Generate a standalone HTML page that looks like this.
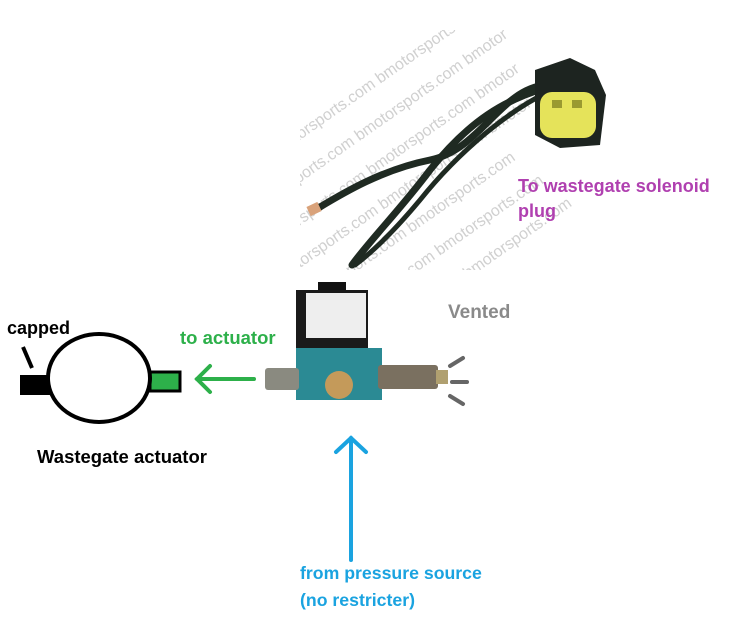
<!DOCTYPE html>
<html><head><style>
html,body{margin:0;padding:0;background:#fff;}
svg{display:block;}
text{font-family:"Liberation Sans",sans-serif;font-weight:bold;}
</style></head><body>
<svg width="733" height="635" viewBox="0 0 733 635" xmlns="http://www.w3.org/2000/svg">
<!-- watermark -->
<g fill="#d0d0d0" font-size="16">
<g transform="rotate(-35 460 150)">
<text x="300" y="50" style="font-weight:normal">bmotorsports.com   bmotorsports.com</text>
<text x="250" y="85" style="font-weight:normal">bmotorsports.com   bmotorsports.com   bmotor</text>
<text x="240" y="120" style="font-weight:normal">bmotorsports.com   bmotorsports.com   bmotor</text>
<text x="230" y="155" style="font-weight:normal">bmotorsports.com   bmotorsports.com   bmotor</text>
<text x="240" y="190" style="font-weight:normal">bmotorsports.com   bmotorsports.com</text>
<text x="250" y="225" style="font-weight:normal">bmotorsports.com   bmotorsports.com</text>
<text x="260" y="260" style="font-weight:normal">bmotorsports.com   bmotorsports.com</text>
</g>
</g>
<rect x="0" y="270" width="733" height="365" fill="#fff"/>
<rect x="0" y="0" width="300" height="270" fill="#fff"/>
<rect x="612" y="0" width="121" height="270" fill="#fff"/>
<rect x="0" y="0" width="733" height="30" fill="#fff"/>
<!-- cables -->
<g fill="none" stroke="#1f2a22" stroke-linecap="round">
<path d="M545 85 C500 90 480 150 430 160 C380 170 340 195 315 210" stroke-width="7"/>
<path d="M545 88 C505 100 470 120 430 170 C400 210 370 240 352 265" stroke-width="7"/>
<path d="M548 92 C510 110 460 150 420 200 C395 230 375 250 355 265" stroke-width="5"/>
</g>
<rect x="308" y="204" width="12" height="10" fill="#d9a27a" transform="rotate(-25 314 209)"/>
<!-- connector -->
<path d="M535 70 L570 58 L595 70 L606 95 L600 145 L560 148 L535 135 Z" fill="#1d2420"/>
<rect x="540" y="92" width="56" height="46" rx="12" fill="#e5e35a"/>
<rect x="552" y="100" width="10" height="8" fill="#9a9a30"/>
<rect x="572" y="100" width="10" height="8" fill="#9a9a30"/>
<text x="518" y="192" fill="#b040b0" font-size="18">To wastegate solenoid</text>
<text x="518" y="217" fill="#b040b0" font-size="18">plug</text>
<!-- solenoid -->
<rect x="318" y="282" width="28" height="14" fill="#111"/>
<rect x="296" y="290" width="72" height="70" fill="#1a1a1a"/>
<rect x="306" y="293" width="60" height="45" fill="#eee"/>
<rect x="296" y="348" width="86" height="52" fill="#2b8a94"/>
<rect x="265" y="368" width="34" height="22" fill="#8a8a80" rx="3"/>
<rect x="378" y="365" width="60" height="24" fill="#7a7060" rx="3"/>
<rect x="436" y="370" width="12" height="14" fill="#b0a070"/>
<circle cx="339" cy="385" r="14" fill="#c49a5a"/>
<g stroke="#666" stroke-width="4" stroke-linecap="round">
<line x1="450" y1="366" x2="463" y2="358"/>
<line x1="452" y1="382" x2="467" y2="382"/>
<line x1="450" y1="396" x2="463" y2="404"/>
</g>
<text x="448" y="318" fill="#8a8a8a" font-size="19">Vented</text>
<!-- actuator -->
<line x1="23" y1="347" x2="32" y2="368" stroke="#000" stroke-width="4"/>
<rect x="20" y="375" width="32" height="20" fill="#000"/>
<rect x="150" y="372" width="30" height="19" fill="#2db04a" stroke="#000" stroke-width="3"/>
<ellipse cx="99" cy="378" rx="51" ry="44" fill="#fff" stroke="#000" stroke-width="4"/>
<text x="7" y="334" fill="#000" font-size="18">capped</text>
<text x="37" y="463" fill="#000" font-size="18.5">Wastegate actuator</text>
<text x="180" y="344" fill="#2db04a" font-size="18.5">to actuator</text>
<g stroke="#2db04a" stroke-width="4" stroke-linecap="round" fill="none">
<line x1="197" y1="379" x2="254" y2="379"/>
<polyline points="210,366 197,379 210,392"/>
</g>
<!-- pressure arrow -->
<g stroke="#1aa3e0" stroke-width="4" stroke-linecap="round" fill="none">
<line x1="351" y1="438" x2="351" y2="560"/>
<polyline points="336,452 351,438 366,452"/>
</g>
<text x="300" y="579" fill="#1aa3e0" font-size="17.7">from pressure source</text>
<text x="300" y="606" fill="#1aa3e0" font-size="17.7">(no restricter)</text>
</svg>
</body></html>
